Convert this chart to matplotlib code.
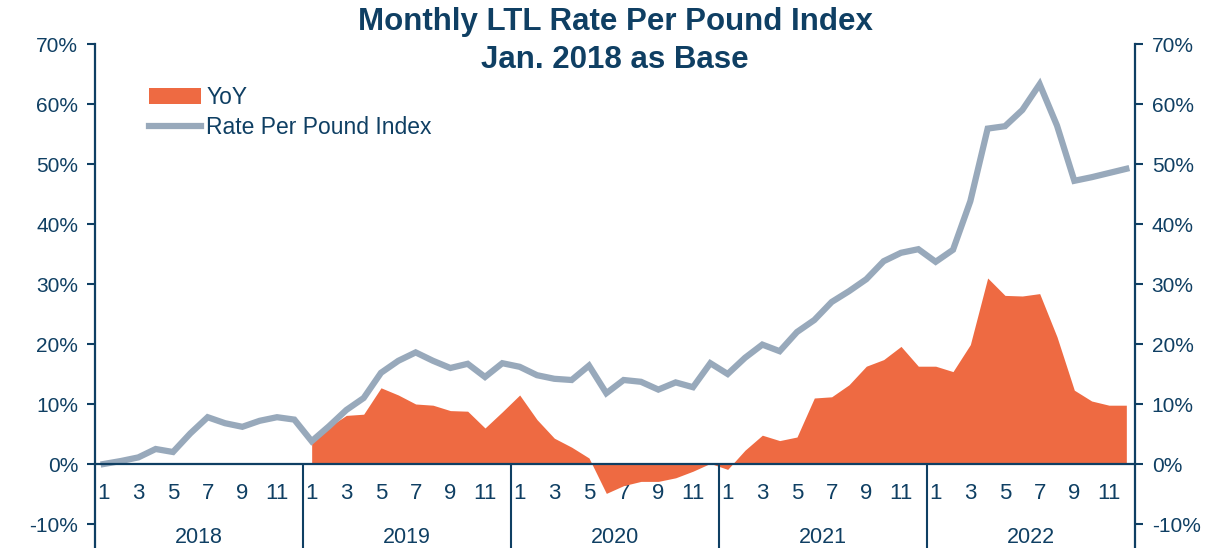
import numpy as np
import matplotlib
matplotlib.use("Agg")
import matplotlib.pyplot as plt
from matplotlib.patches import Patch
from matplotlib.lines import Line2D

# monthly data, Jan 2018 - Dec 2022, in percent
years = ["2018", "2019", "2020", "2021", "2022"]
months = list(range(1, 13))

index_pct = [
    0.0, 0.5, 1.1, 2.5, 2.0, 5.1, 7.8, 6.8, 6.2, 7.2, 7.8, 7.4,          # 2018
    3.8, 6.3, 9.0, 11.0, 15.2, 17.2, 18.6, 17.2, 16.0, 16.7, 14.5, 16.8,  # 2019
    16.2, 14.8, 14.2, 14.0, 16.4, 11.8, 14.0, 13.7, 12.4, 13.6, 12.8, 16.8,  # 2020
    15.0, 17.7, 19.9, 18.8, 22.0, 24.0, 27.0, 28.8, 30.8, 33.8, 35.2, 35.8,  # 2021
    33.7, 35.7, 43.8, 55.9, 56.3, 59.0, 63.3, 56.4, 47.2, 47.8, 48.5, 49.2,  # 2022
]

# YoY only exists from Jan 2019
yoy_pct = [
    3.7, 6.2, 8.1, 8.3, 12.7, 11.5, 10.0, 9.8, 8.9, 8.8, 6.0, 8.7,       # 2019
    11.5, 7.4, 4.3, 2.8, 1.0, -4.9, -3.6, -2.9, -2.9, -2.3, -1.2, 0.1,   # 2020
    -0.9, 2.3, 4.8, 3.9, 4.5, 11.0, 11.2, 13.2, 16.3, 17.4, 19.6, 16.3,  # 2021
    16.3, 15.4, 19.9, 31.0, 28.1, 28.0, 28.4, 21.2, 12.3, 10.5, 9.8, 9.8,  # 2022
]

navy = "#0F3F63"
orange = "#EE6A42"
grey = "#98A9BB"

plt.rcParams["font.family"] = ["Liberation Sans", "DejaVu Sans"]

n = len(index_pct)
x = np.arange(n)
x_yoy = x[n - len(yoy_pct):]

fig = plt.figure(figsize=(12.3, 5.48), dpi=100)
ax = fig.add_axes([95 / 1230, 0, 1040 / 1230, 504 / 548])

ax.fill_between(x_yoy, 0, yoy_pct, color=orange, lw=0, zorder=2)
ax.plot(x, index_pct, color=grey, lw=4.5, solid_joinstyle="miter", zorder=3)

ax.set_xlim(-0.5, n - 0.5)
ax.set_ylim(-14, 70)
yt = np.arange(-10, 71, 10)
ax.set_yticks(yt)
ax.set_yticklabels([f"{v}%" for v in yt])

# month labels under the zero line
ax.spines["bottom"].set_position(("data", 0))
ax.set_xticks(x)
ax.set_xticklabels([str(m) if m % 2 == 1 else "" for _ in years for m in months])
ax.tick_params(axis="x", length=0, pad=14, labelsize=16, labelcolor=navy)
ax.tick_params(axis="y", direction="out", length=6, width=1.5, color=navy,
               labelsize=15, labelcolor=navy, pad=6)

for s in ["left", "bottom"]:
    ax.spines[s].set_color(navy)
    ax.spines[s].set_linewidth(1.6)
ax.spines["top"].set_visible(False)
ax.spines["right"].set_visible(False)
ax.spines["bottom"].set_zorder(4)

# year separators and year labels
for i in range(1, len(years)):
    ax.vlines(i * 12 - 0.5, -14, 0, color=navy, lw=1.5, zorder=4)
for i, yr in enumerate(years):
    ax.text(i * 12 + 5.5, -12.2, yr, ha="center", va="center",
            fontsize=15.5, color=navy)

# right axis, same scale
ax2 = ax.twinx()
ax2.set_ylim(ax.get_ylim())
ax2.set_yticks(yt)
ax2.set_yticklabels([f"{v}%" for v in yt])
ax2.tick_params(axis="y", direction="out", length=6, width=1.5, color=navy,
                labelsize=15, labelcolor=navy, pad=6)
for s in ["left", "top", "bottom"]:
    ax2.spines[s].set_visible(False)
ax2.spines["right"].set_color(navy)
ax2.spines["right"].set_linewidth(1.6)

fig.text(0.5, 1 - 22 / 548, "Monthly LTL Rate Per Pound Index",
         ha="center", va="center", fontsize=22.5, fontweight="bold", color=navy)
fig.text(0.5, 1 - 60 / 548, "Jan. 2018 as Base",
         ha="center", va="center", fontsize=22.5, fontweight="bold", color=navy)

handles = [Patch(facecolor=orange, edgecolor="none"),
           Line2D([0], [0], color=grey, lw=4.5)]
ax.legend(handles, ["YoY", "Rate Per Pound Index"], loc="upper left",
          bbox_to_anchor=(0.041, 0.94), frameon=False, fontsize=16.5,
          labelcolor=navy, handlelength=2.27, handletextpad=0.22,
          labelspacing=0.3, borderpad=0)

fig.savefig("out.png", dpi=100)
